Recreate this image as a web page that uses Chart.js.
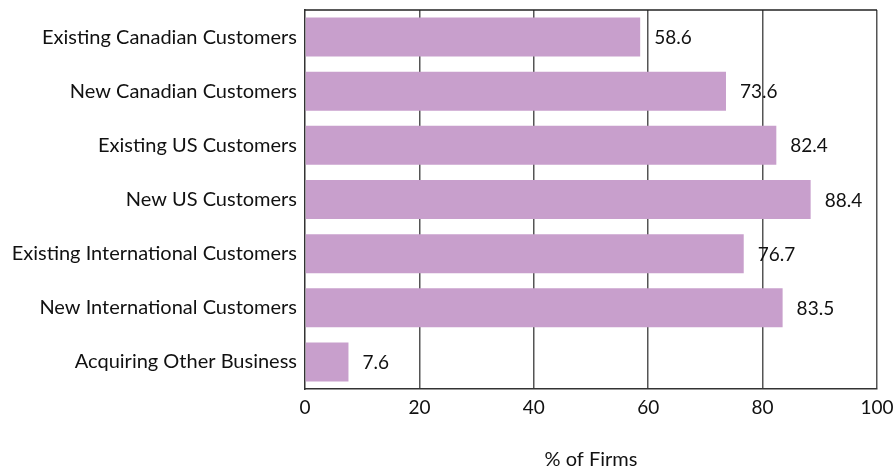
<!DOCTYPE html>
<html>
<head>
<meta charset="utf-8">
<script src="https://cdn.jsdelivr.net/npm/chart.js@4"></script>
<style>
  html, body { margin: 0; padding: 0; background: #fff; }
  #wrap { width: 893px; height: 467px; }
</style>
</head>
<body>
<div id="wrap"><canvas id="c" width="893" height="467"></canvas></div>
<script>
const categories = [
  "Existing Canadian Customers",
  "New Canadian Customers",
  "Existing US Customers",
  "New US Customers",
  "Existing International Customers",
  "New International Customers",
  "Acquiring Other Business"
];
const percentFirms = [58.6, 73.6, 82.4, 88.4, 76.7, 83.5, 7.6];
const xTicks = [0, 20, 40, 60, 80, 100];

const FONT = 'Lato, "Open Sans", sans-serif';
const FS = 19;

// Value labels at the end of each bar, plus the top edge of the frame
const barValues = {
  id: 'barValues',
  afterDatasetsDraw(chart) {
    const ctx = chart.ctx;
    const meta = chart.getDatasetMeta(0);
    ctx.save();
    ctx.font = FS + 'px ' + FONT;
    ctx.fillStyle = '#111';
    ctx.textAlign = 'left';
    ctx.textBaseline = 'middle';
    meta.data.forEach((bar, i) => {
      ctx.fillText(percentFirms[i].toFixed(1), bar.x + 14, bar.y + 1);
    });
    const a = chart.chartArea;
    ctx.strokeStyle = '#222';
    ctx.lineWidth = 1.5;
    ctx.beginPath();
    ctx.moveTo(a.left, a.top);
    ctx.lineTo(a.right, a.top);
    ctx.stroke();
    ctx.restore();
  }
};

new Chart(document.getElementById('c'), {
  type: 'bar',
  data: {
    labels: categories,
    datasets: [{
      data: percentFirms,
      backgroundColor: '#C89FCC',
      borderWidth: 0,
      categoryPercentage: 0.8,
      barPercentage: 0.9
    }]
  },
  options: {
    indexAxis: 'y',
    responsive: false,
    animation: false,
    layout: { padding: { top: 10, right: 16, bottom: 0, left: 0 } },
    plugins: {
      legend: { display: false },
      tooltip: { enabled: false }
    },
    scales: {
      x: {
        min: 0,
        max: 100,
        afterBuildTicks(axis) { axis.ticks = xTicks.map(v => ({ value: v })); },
        afterFit(axis) { axis.paddingLeft = 0; axis.paddingRight = 0; },
        grid: {
          color: (c) => c.tick && c.tick.value === 0 ? 'rgba(0,0,0,0)' : '#555',
          lineWidth: 1.5,
          drawTicks: false
        },
        border: { display: true, color: '#333', width: 1.5 },
        ticks: {
          padding: 9,
          color: '#111',
          font: { family: FONT, size: FS, lineHeight: 1 }
        },
        title: {
          display: true,
          text: '% of Firms',
          color: '#111',
          font: { family: FONT, size: 20, lineHeight: 1 },
          padding: { top: 24, bottom: -3 }
        }
      },
      y: {
        grid: { display: false, drawTicks: false },
        border: { display: true, color: '#333', width: 1.5 },
        afterFit(axis) { axis.width = 305; axis.paddingTop = 0; axis.paddingBottom = 0; },
        ticks: {
          padding: 8,
          color: '#111',
          font: { family: FONT, size: 20 }
        }
      }
    }
  },
  plugins: [barValues]
});
</script>
</body>
</html>
